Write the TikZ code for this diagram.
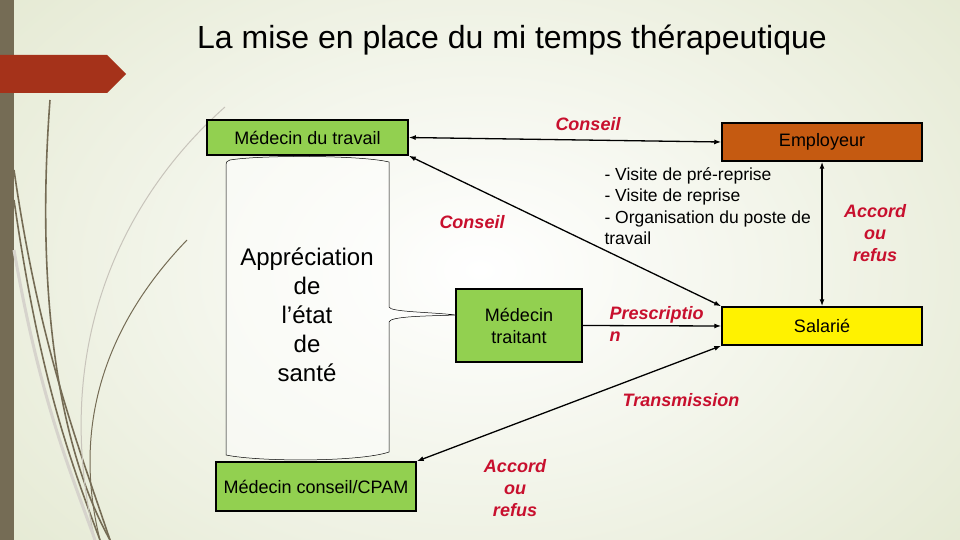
\documentclass[tikz,border=0pt]{standalone}
\usepackage{fontspec}
\setmainfont{Liberation Sans}
\usetikzlibrary{arrows.meta,shapes.geometric}
\definecolor{gbox}{HTML}{92D050}
\definecolor{obox}{HTML}{C55A11}
\definecolor{lab}{HTML}{C8102E}
\definecolor{olive}{HTML}{756C55}
\definecolor{banner}{HTML}{A5321A}
\definecolor{bgc}{HTML}{E3E8D0}
\tikzset{
 box/.style={draw=black,line width=1.5pt,font=\fontsize{18}{22}\selectfont,align=center,inner sep=0pt},
 lbl/.style={text=lab,font=\fontsize{18}{22}\selectfont\bfseries\itshape,align=center},
 con/.style={line width=1.3pt,{Latex[length=7pt,width=5pt]}-{Latex[length=7pt,width=5pt]}},
 deco/.style={olive,line width=1.6pt}
}
\begin{document}
\begin{tikzpicture}[x=1pt,y=-1pt]
\useasboundingbox (0,0) rectangle (960,540);
\shade[inner color=white,outer color=bgc] (-200,-200) rectangle (1160,740);
\fill[olive] (0,0) rectangle (14,540);
\fill[banner] (0,55) -- (107,55) -- (126,74) -- (107,93) -- (0,93) -- cycle;
% decorative curves
\draw[deco] (50,100) .. controls (35,300) and (60,450) .. (110,540);
\draw[deco] (14,170) .. controls (40,350) and (80,450) .. (110,540);
\draw[deco] (14,200) .. controls (40,380) and (70,460) .. (100,540);
\draw[deco,line width=1pt] (187,240) .. controls (110,320) and (70,420) .. (100,540);
\draw[olive!40,line width=1pt] (225,107) .. controls (120,200) and (50,350) .. (95,540);
\draw[olive!30,line width=3pt] (14,250) .. controls (40,400) and (70,470) .. (95,540);
\node[font=\fontsize{32}{36}\selectfont] (title) at (512,40) {La mise en place du mi temps thérapeutique};
\node[box,fill=gbox,minimum width=201pt,minimum height=35pt] (mdt) at (307.5,137.5) {Médecin du travail};
\node[box,fill=obox,minimum width=200pt,minimum height=38pt] (emp) at (822,142) {Employeur};
\node[box,fill=yellow,minimum width=200pt,minimum height=38pt] (sal) at (822,326) {Salarié};
\node[box,fill=gbox,minimum width=126pt,minimum height=73pt] (mt) at (519,325.5) {Médecin\\traitant};
\node[box,fill=gbox,minimum width=200pt,minimum height=49pt] (cpam) at (316,486.5) {Médecin conseil/CPAM};
% brace box
\draw[line width=0.5pt,fill=white,fill opacity=0.5] (230,160) .. controls (260,155) and (360,155) .. (389,162) -- (389,307)
 .. controls (390,312) and (430,312) .. (456,315)
 .. controls (430,316) and (390,316) .. (389,322) -- (389,452) .. controls (360,462) and (260,462) .. (226,455) -- (226,165) .. controls (226,162) .. (230,160);
\node[font=\fontsize{24}{29}\selectfont,align=center] (app) at (307,315) {Appréciation\\de\\ l’état\\de\\ santé};
\draw[con] (mdt.east) -- (emp.west);
\draw[con] (mdt.south east) -- (sal.north west);
\draw[con] (cpam.north east) -- (sal.south west);
\draw[con] (emp.south) -- (sal.north);
\draw[line width=1.3pt,-{Latex[length=7pt,width=5pt]}] (mt.east) -- (sal.west);
\node[lbl] (l1) at (588,124) {Conseil};
\node[lbl] (l2) at (472,222) {Conseil};
\node[lbl,align=left,anchor=west] (l3) at (606,324) {Prescriptio\\n};
\node[lbl] (l4) at (681,400) {Transmission};
\node[lbl] (l5) at (875,233) {Accord\\ou\\refus};
\node[lbl] (l6) at (515,488) {Accord\\ou\\refus};
\node[font=\fontsize{17.5}{21.5}\selectfont,align=left,anchor=north west] (vis) at (601,164) {- Visite de pré-reprise\\- Visite de reprise\\- Organisation du poste de\\travail};
\end{tikzpicture}
\end{document}
